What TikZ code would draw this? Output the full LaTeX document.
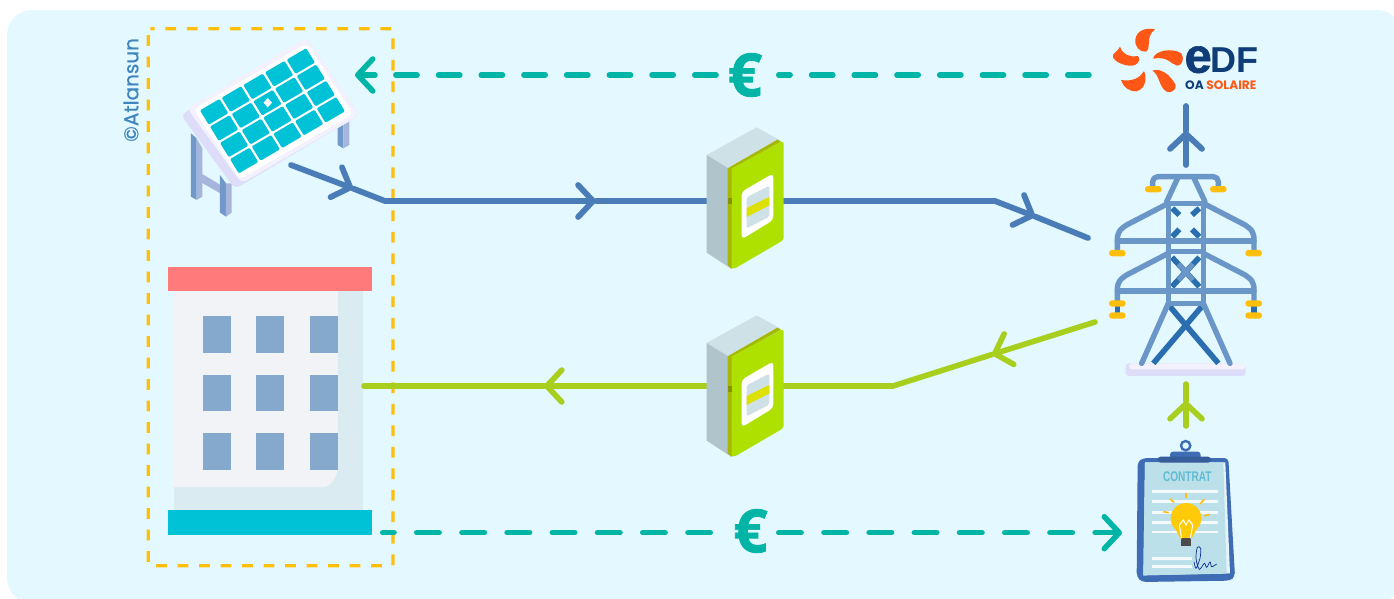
\documentclass[tikz,border=0pt]{standalone}
\usepackage{fontspec}
\usetikzlibrary{arrows.meta}
\newfontfamily\popf{Poppins}
\newfontfamily\popm{Poppins}[FakeBold=0.5]
\newfontfamily\libf{Liberation Sans}
\newfontfamily\libx{Liberation Sans}[FakeBold=1.2]
\newfontfamily\opnf{Open Sans}[FakeBold=1.2]
\definecolor{bgc}{HTML}{E3F9FF}
\definecolor{teal1}{HTML}{00B4A6}
\definecolor{flowblue}{HTML}{4A7DB8}
\definecolor{flowgreen}{HTML}{A8CF1E}
\definecolor{framey}{HTML}{FFBE0A}
\definecolor{cellc}{HTML}{00C2D6}
\definecolor{lav}{HTML}{DEDDF9}
\definecolor{lavl}{HTML}{F2F1FC}
\definecolor{legd}{HTML}{7098C8}
\definecolor{legl}{HTML}{A5B5DC}
\definecolor{towerl}{HTML}{6A96C8}
\definecolor{towerd}{HTML}{2A6EB0}
\definecolor{navy}{HTML}{0F3D78}
\definecolor{edfo}{HTML}{FE5716}
\definecolor{mgreen}{HTML}{AEE000}
\definecolor{molive}{HTML}{A6B800}
\definecolor{mtop}{HTML}{CDE1E6}
\definecolor{mside}{HTML}{B0C5CB}
\definecolor{myel}{HTML}{DDE000}
\definecolor{boardc}{HTML}{3F6DB5}
\definecolor{paperc}{HTML}{BCE0EA}
\definecolor{roofc}{HTML}{FF7B7B}
\definecolor{winc}{HTML}{84A9CC}
\definecolor{wallc}{HTML}{DBEBF2}
\definecolor{frontc}{HTML}{F1F3F7}
\definecolor{creditc}{HTML}{3F85BF}
\definecolor{contc}{HTML}{5FBCD3}
\tikzset{
  chev/.tip={Straight Barb[length=15pt,width=32pt,round]},
  flowb/.style={draw=flowblue,line width=5.8pt,line cap=round,line join=round},
  flowg/.style={draw=flowgreen,line width=5.6pt,line cap=round,line join=round},
  paytop/.style={draw=teal1,line width=5.5pt,line cap=round,dash pattern=on 21.3pt off 21.4pt},
  paybot/.style={draw=teal1,line width=5.5pt,line cap=round,dash pattern=on 22.5pt off 22.7pt},
  paystub/.style={draw=teal1,line width=5.5pt,line cap=round},
  euro/.style={text=teal1,inner sep=0pt,font=\opnf\bfseries\fontsize{60}{60}\selectfont},
  tl/.style={draw=towerl,line width=5.4pt,line cap=round,line join=round,rounded corners=5pt},
  td/.style={draw=towerd,line width=5.6pt},
  capbox/.style={fill=framey,rounded corners=3pt},
  paperline/.style={draw=white!85!paperc,line width=2.6pt},
  ray/.style={draw=framey,line width=1.6pt},
  petal/.style={fill=edfo},
}
\newcommand{\meterIcon}[1]{%
\begin{scope}[shift={(690,#1)},scale=0.3333]
  \fill[mtop] (50,105)--(200,22)--(272,62)--(115,145)--cycle;
  \fill[mside] (50,105)--(115,145)--(125,447)--(50,398)--cycle;
  \fill[mgreen,rounded corners=3pt] (120,145)--(281,62)--(281,360)--(130,448)--(120,440)--cycle;
  \fill[molive] (113,145)--(262,59)--(273,65)--(125,145)--(125,447)--(113,435)--cycle;
  \fill[molive!80!black] (113,235)--(125,235)--(125,251)--(113,251)--cycle;
  \fill[white,rounded corners=4pt] (155,215)--(250,160)--(250,300)--(155,358)--cycle;
  \fill[mtop,rounded corners=2pt] (170,232)--(238,197)--(238,290)--(170,325)--cycle;
  \fill[myel] (170,264)--(238,231)--(238,256)--(170,291)--cycle;
\end{scope}}
\begin{document}
\begin{tikzpicture}[x=1pt,y=-1pt]
\useasboundingbox (0,0) rectangle (1394,598);
\clip (0,0) rectangle (1394,598);
\fill[white] (0,0) rectangle (1394,598);
\fill[bgc,rounded corners=25pt] (7,10) rectangle (1402,603);

% dashed boundary
\draw[framey,line width=3.2pt,dash pattern=on 10.7pt off 10.8pt,dash phase=6.5pt,rounded corners=2pt]
  (148.3,28.7)--(393,28.7)--(393,565.7)--(148.3,565.7)--cycle;

% credit
\node[rotate=90,text=creditc,font=\popm\fontsize{20}{20}\selectfont,inner sep=0pt] (credit) at (131,90) {©Atlansun};

% solar panel
\begin{scope}[shift={(100,20)},scale=0.3333]
  \fill[legd] (273,340)--(290,355)--(290,540)--(273,530)--cycle;
  \fill[legl] (290,355)--(307,385)--(307,530)--(290,540)--cycle;
  \fill[legl] (300,458)--(378,505)--(378,530)--(300,485)--cycle;
  \fill[legd] (360,465)--(378,490)--(378,590)--(360,578)--cycle;
  \fill[legl] (378,490)--(395,490)--(395,578)--(378,590)--cycle;
  \fill[legd] (713,325)--(730,315)--(730,385)--(713,375)--cycle;
  \fill[legl] (730,315)--(748,305)--(748,375)--(730,385)--cycle;
  \fill[lav,rounded corners=5pt] (243,285)--(620,53)--(778,285)--(405,507)--cycle;
  \fill[lavl,rounded corners=5pt] (262,265)--(620,53)--(778,285)--(425,490)--cycle;
  \fill[white,rounded corners=5pt] (280,268)--(620,70)--(760,282)--(420,478)--cycle;
\end{scope}
\begin{scope}[shift={(198.3,110)},x={(21.67pt,12.67pt)},y={(10pt,-16.25pt)}]
  \foreach \i in {0,...,4}{\foreach \j in {0,...,3}{
    \fill[cellc,rounded corners=1.2pt] (\i+.05,\j+.06)--(\i+.95,\j+.06)--(\i+.95,\j+.94)--(\i+.05,\j+.94)--cycle;
  }}
\end{scope}
\fill[white] (267.7,98) -- (272,102.7) -- (267.7,107.3) -- (263.5,102.7) -- cycle;

% building
\begin{scope}[shift={(140,255)},scale=0.3333]
  \fill[wallc] (102,108) rectangle (668,766);
  \fill[frontc] (102,108)--(594,108)--(594,640) .. controls (590,670) and (570,697) .. (545,697) --(102,697)--cycle;
  \fill[roofc] (85,35) rectangle (697,108);
  \fill[cellc] (85,766) rectangle (697,840);
  \foreach \x in {188,348.5,509}{\foreach \y in {184,359,535}{
    \fill[winc] (\x,\y) rectangle ++(85,109);
  }}
\end{scope}

% connector anchor points
\coordinate (panelOut) at (291,165);
\coordinate (panelChev) at (353,188.5);
\coordinate (prodBendA) at (385,201);
\coordinate (prodChev) at (596,201);
\coordinate (prodMeter) at (745,201);
\coordinate (prodBendB) at (995,201);
\coordinate (prodChevB) at (1035,216.5);
\coordinate (towerIn) at (1088,238);
\coordinate (upStart) at (1186,165);
\coordinate (upChev) at (1186,131);
\coordinate (upEnd) at (1186,106);
\coordinate (towerOut) at (1095,322);
\coordinate (consChevA) at (992,354.5);
\coordinate (consBend) at (893,386);
\coordinate (consChev) at (544,386);
\coordinate (buildIn) at (364,386);
\coordinate (contractOut) at (1186,426);
\coordinate (contractChev) at (1186,401);
\coordinate (contractEnd) at (1186,384);
\coordinate (edfOut) at (1089,75);
\coordinate (euroTopR) at (778.7,75);
\coordinate (euroTopL) at (716,75);
\coordinate (panelDashStart) at (394.7,75);
\coordinate (panelStub) at (375,75);
\coordinate (panelIn) at (355,75);
\coordinate (buildPay) at (382.7,532.7);
\coordinate (euroBotL) at (710.3,532.7);
\coordinate (euroBotR) at (778.7,532.7);
\coordinate (contractIn) at (1122,532.7);

% power flows
\draw[flowb,-{chev}] (panelOut)--(panelChev);
\draw[flowb,-{chev}] (panelChev)--(prodBendA)--(prodChev);
\draw[flowb,-{chev}] (prodChev)--(prodMeter)--(prodBendB)--(prodChevB);
\draw[flowb] (prodChevB)--(towerIn);
\draw[flowb,-{chev}] (upStart)--(upChev);
\draw[flowb] (upChev)--(upEnd);
\draw[flowg,-{chev}] (towerOut)--(consChevA);
\draw[flowg,-{chev}] (consChevA)--(consBend)--(consChev);
\draw[flowg] (consChev)--(buildIn);
\draw[flowg,-{chev}] (contractOut)--(contractChev);
\draw[flowg] (contractChev)--(contractEnd);

% payments
\draw[paytop] (edfOut)--(euroTopR);
\draw[paytop] (euroTopL)--(panelDashStart);
\draw[paystub,-{chev}] (panelStub)--(panelIn);
\draw[paybot,dash phase=11.2pt] (buildPay)--(euroBotL);
\draw[paybot,-{chev}] (euroBotR)--(contractIn);
\node[euro] (euroTop) at (745,75) {€};
\node[euro] (euroBot) at (750.5,531) {€};

% meters
\meterIcon{120}
\meterIcon{308}

% EDF logo
\begin{scope}[shift={(1090,20)},scale=0.3333]
  \fill[petal] (195,28) .. controls (170,22) and (140,30) .. (136,58) .. controls (133,80) and (150,97) .. (168,95) .. controls (185,85) and (165,50) .. (195,28) -- cycle;
  \fill[petal] (90,80) .. controls (85,95) and (65,98) .. (69,112) .. controls (78,130) and (115,142) .. (135,135) .. controls (150,128) and (150,112) .. (143,108) .. controls (120,112) and (98,105) .. (90,80) -- cycle;
  \fill[petal] (190,114) .. controls (195,92) and (245,82) .. (274,100) .. controls (284,115) and (277,137) .. (262,137) .. controls (240,132) and (235,108) .. (190,116) -- cycle;
  \fill[petal] (160,155) .. controls (150,175) and (125,185) .. (93,180) .. controls (98,200) and (120,217) .. (140,214) .. controls (168,205) and (170,175) .. (163,155) -- cycle;
  \fill[petal] (187,152) .. controls (212,143) and (240,163) .. (257,195) .. controls (260,212) and (240,220) .. (230,215) .. controls (205,200) and (210,165) .. (187,152) -- cycle;
  \node[anchor=base west,inner sep=0pt,text=navy,font=\libx\bfseries\fontsize{49}{49}\selectfont] (edfE) at (283,158) {e};
  \node[anchor=base west,inner sep=0pt,text=navy,font=\libf\bfseries\fontsize{36}{36}\selectfont] (edfDF) at (362,158) {DF};
  \node[anchor=base west,inner sep=0pt,font=\popf\bfseries\fontsize{12.2}{12}\selectfont] (edfOA) at (285,209) {\textcolor{navy}{OA} \textcolor{edfo}{SOLAIRE}};
\end{scope}

% pylon
\begin{scope}[shift={(1090,170)},scale=0.3333]
  \fill[lav,rounded corners=3pt] (107,580) rectangle (467,618);
  \fill[lavl,rounded corners=3pt] (117,580) rectangle (467,598);
  \draw[td] (240,410)--(385,580);
  \draw[td] (335,410)--(190,580);
  \draw[td] (82,405)--(82,430);
  \draw[td] (492,405)--(492,430);
  \draw[td] (247,115)--(268,135);
  \draw[td] (328,115)--(306,135);
  \draw[td] (247,200)--(268,178);
  \draw[td] (328,200)--(306,178);
  \draw[td] (246,262)--(328,350);
  \draw[td] (328,262)--(246,350);
  \draw[towerl,line width=4.6pt] (265,282)--(309,330);
  \draw[towerl,line width=4.6pt] (309,282)--(265,330);
  \draw[tl,rounded corners=0pt] (235,400)--(155,580);
  \draw[tl,rounded corners=0pt] (340,400)--(420,580);
  \draw[tl,rounded corners=0pt] (235,100)--(235,400)--(340,400)--(340,100)--cycle;
  \draw[tl,rounded corners=0pt] (235,245)--(340,245);
  \draw[tl,rounded corners=0pt] (230,95)--(265,20);
  \draw[tl,rounded corners=0pt] (345,95)--(310,20);
  \draw[tl] (188,50)--(188,20)--(385,20)--(385,50);
  \draw[tl] (235,100)--(100,170)--(82,190)--(82,245);
  \draw[tl] (340,100)--(475,170)--(492,190)--(492,245);
  \draw[tl] (235,250)--(100,320)--(82,340)--(82,395);
  \draw[tl] (340,250)--(475,320)--(492,340)--(492,395);
  \draw[tl,rounded corners=0pt] (82,213)--(492,213);
  \draw[tl,rounded corners=0pt] (82,363)--(492,363);
  \foreach \x/\y in {165/48,360/48,57/240,466/240,57/391,466/391,57/427,466/427}{
    \fill[capbox] (\x,\y) rectangle ++(50,19);
  }
\end{scope}

% contract
\begin{scope}[shift={(1110,430)},scale=0.3333]
  \fill[boardc,rounded corners=4pt] (83,95)--(100,84)--(355,84)--(375,440)--(360,452)--(95,456)--(80,440)--cycle;
  \fill[white!60!paperc] (105,97)--(346,97)--(360,430)--(100,436)--cycle;
  \fill[paperc] (105,97)--(340,97)--(350,431)--(100,436)--cycle;
  \draw[boardc,line width=2.4pt] (227,47) circle (14);
  \fill[boardc,rounded corners=3pt] (180,65) rectangle (272,90);
  \fill[boardc!85!black,rounded corners=3pt] (143,80) rectangle (303,98);
  \foreach \y in {185,215,248,277,306}{\draw[paperline] (125,\y)--(325,\y);}
  \foreach \y in {385,410}{\draw[paperline] (125,\y)--(245,\y);}
  \node[inner sep=0pt,text=contc,font=\libf\bfseries\fontsize{14}{14}\selectfont] (contractText) at (232,141) {\scalebox{0.72}[1]{CONTRAT}};
  \draw[ray] (228,190)--(228,205);
  \draw[ray] (180,207)--(192,217);
  \draw[ray] (283,208)--(270,222);
  \draw[ray] (160,245)--(176,248);
  \draw[ray] (300,253)--(283,258);
  \fill[framey!80!yellow] (228,265) circle (46);
  \fill[framey!80!yellow] (195,295)--(261,295)--(245,325)--(211,325)--cycle;
  \fill[black!70] (213,325) rectangle (243,348);
  \draw[white,line width=1pt] (215,325)--(208,285)--(220,270)--(228,285)--(237,270)--(248,285)--(241,325);
  \draw[navy!80!blue,line width=.7pt] plot[smooth] coordinates {(252,395) (258,415) (270,385) (272,355) (262,352) (258,385) (268,418) (283,400) (290,412) (300,396) (305,410) (320,402)};
\end{scope}
\end{tikzpicture}
\end{document}
